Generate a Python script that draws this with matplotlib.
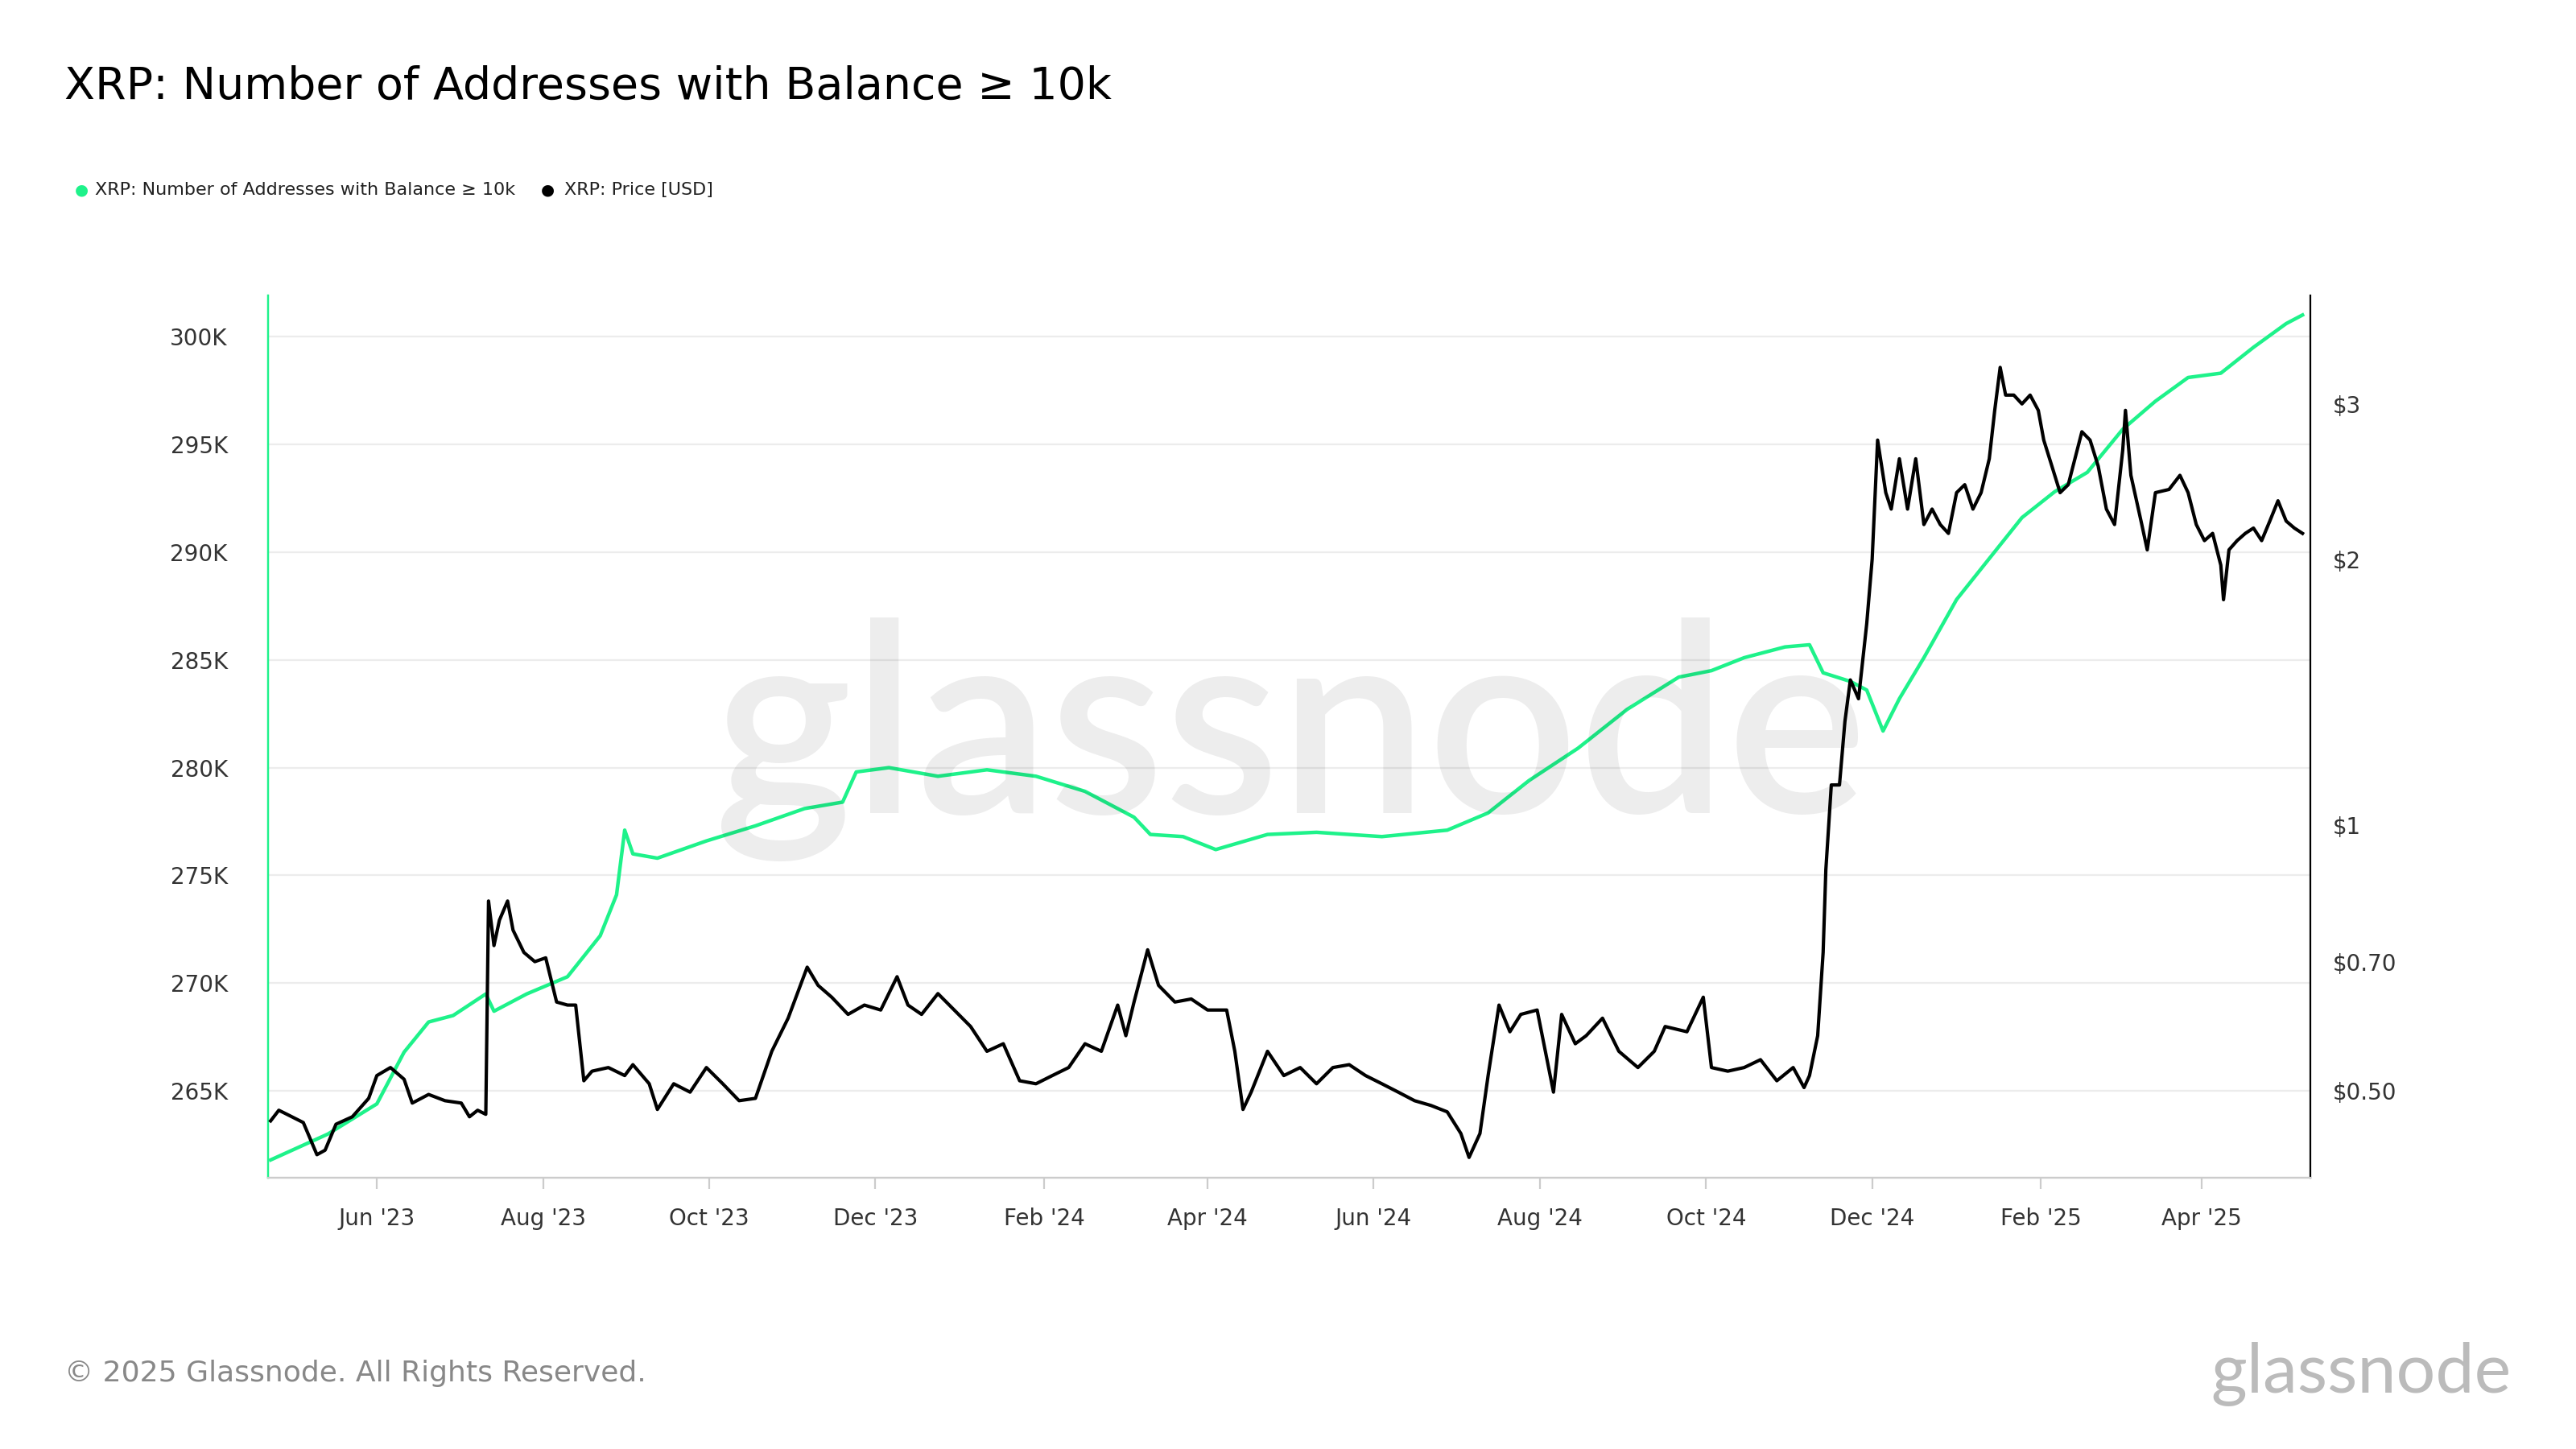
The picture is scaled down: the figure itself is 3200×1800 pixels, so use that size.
import matplotlib
matplotlib.use("Agg")
import matplotlib.pyplot as plt
import matplotlib.dates as mdates
import matplotlib.ticker as mticker
import pandas as pd

BASE = pd.Timestamp("2023-04-22")

# Addresses with balance >= 10k (thousands), by days since BASE
addr_days = [1,22,40,50,59,68,80,83,95,110,122,128,131,134,143,161,179,197,211,216,228,246,264,282,300,318,324,336,348,367,385,409,433,448,463,481,499,518,530,542,557,566,571,581,587,593,599,608,620,632,644,656,668,681,693,705,717,729,741,747]
addr_k = [261.8,263.0,264.4,266.8,268.2,268.5,269.5,268.7,269.5,270.3,272.2,274.1,277.1,276.0,275.8,276.6,277.3,278.1,278.4,279.8,280.0,279.6,279.9,279.6,278.9,277.7,276.9,276.8,276.2,276.9,277.0,276.8,277.1,277.9,279.4,280.9,282.7,284.2,284.5,285.1,285.6,285.7,284.4,284.0,283.6,281.7,283.2,285.1,287.8,289.7,291.6,292.8,293.7,295.7,297.0,298.1,298.3,299.5,300.6,301.0]

# XRP price USD, by days since BASE
price_days = [1,4,7,13,18,21,25,31,37,40,45,50,53,59,65,71,74,77,80,81,83,85,88,90,94,98,102,106,110,113,116,119,125,131,134,140,143,149,155,161,167,173,179,185,191,198,202,207,213,219,225,231,235,240,246,252,258,264,270,276,282,288,294,300,306,312,315,318,323,327,333,339,345,352,355,358,361,367,373,379,385,391,397,403,409,415,421,427,433,438,441,445,448,452,456,460,466,469,472,475,480,484,490,496,503,509,513,521,527,530,536,542,548,554,560,564,566,569,571,572,574,577,579,581,584,587,589,591,594,596,599,602,605,608,611,614,617,620,623,626,629,632,634,636,638,641,644,647,650,652,655,658,661,666,669,672,675,678,681,682,684,688,690,693,698,702,705,708,711,714,717,718,720,723,726,729,732,735,738,741,744,747]
price = [0.462,0.475,0.470,0.460,0.423,0.428,0.458,0.467,0.490,0.520,0.531,0.515,0.484,0.495,0.487,0.484,0.467,0.475,0.470,0.820,0.730,0.780,0.820,0.760,0.717,0.700,0.707,0.630,0.625,0.625,0.513,0.526,0.531,0.520,0.535,0.509,0.476,0.509,0.498,0.531,0.509,0.487,0.490,0.554,0.604,0.690,0.658,0.638,0.610,0.625,0.617,0.673,0.625,0.610,0.644,0.617,0.591,0.554,0.565,0.513,0.509,0.520,0.531,0.565,0.554,0.625,0.577,0.630,0.722,0.658,0.630,0.635,0.617,0.617,0.554,0.476,0.498,0.554,0.520,0.531,0.509,0.531,0.535,0.520,0.509,0.498,0.487,0.481,0.473,0.447,0.420,0.447,0.520,0.625,0.583,0.610,0.617,0.554,0.498,0.610,0.565,0.577,0.604,0.554,0.531,0.554,0.591,0.583,0.638,0.531,0.526,0.531,0.542,0.513,0.531,0.504,0.520,0.577,0.717,0.89,1.11,1.11,1.31,1.46,1.39,1.69,2.0,2.73,2.38,2.28,2.6,2.28,2.6,2.19,2.28,2.19,2.14,2.38,2.43,2.28,2.38,2.6,2.95,3.3,3.07,3.07,3.0,3.07,2.95,2.73,2.55,2.38,2.43,2.79,2.73,2.55,2.28,2.19,2.66,2.95,2.49,2.19,2.05,2.38,2.40,2.49,2.38,2.19,2.10,2.14,1.97,1.80,2.05,2.10,2.14,2.17,2.10,2.21,2.33,2.21,2.17,2.14]

addr_dates = [BASE + pd.Timedelta(days=d) for d in addr_days]
price_dates = [BASE + pd.Timedelta(days=d) for d in price_days]

GREEN = "#1ef28a"
fig = plt.figure(figsize=(16, 9), dpi=200)
ax = fig.add_axes([0.104, 0.187, 0.793, 0.609])
ax2 = ax.twinx()

ax.plot(addr_dates, [v * 1000 for v in addr_k], color=GREEN, lw=1.6, zorder=2)
ax2.plot(price_dates, price, color="black", lw=1.5, zorder=3)

ax.set_ylim(260960, 301900)
ax.set_yticks([265000, 270000, 275000, 280000, 285000, 290000, 295000, 300000])
ax.yaxis.set_major_formatter(mticker.FuncFormatter(lambda v, p: f"{int(v/1000)}K"))
ax.grid(axis="y", color="#ececec", lw=0.8)
ax.set_axisbelow(True)

ax2.set_yscale("log")
ax2.set_ylim(0.398, 3.98)
ax2.yaxis.set_major_locator(mticker.FixedLocator([0.5, 0.7, 1, 2, 3]))
ax2.yaxis.set_minor_locator(mticker.NullLocator())
ax2.yaxis.set_major_formatter(mticker.FixedFormatter(["$0.50", "$0.70", "$1", "$2", "$3"]))

ax.set_xlim(pd.Timestamp("2023-04-22"), pd.Timestamp("2025-05-11"))
ax.xaxis.set_major_locator(mdates.MonthLocator(bymonth=[2, 4, 6, 8, 10, 12]))
ax.xaxis.set_major_formatter(mdates.DateFormatter("%b '%y"))

for a in (ax, ax2):
    a.spines["top"].set_visible(False)
    a.tick_params(labelsize=10, colors="#333333", length=0, pad=10)
ax.spines["left"].set_color(GREEN)
ax.spines["right"].set_visible(False)
ax2.spines["left"].set_color(GREEN)
ax2.spines["right"].set_color("black")
ax.spines["bottom"].set_color("#cccccc")
ax2.spines["bottom"].set_color("#cccccc")
ax.tick_params(axis="x", length=5, color="#cccccc", pad=8)
ax.tick_params(axis="y", pad=18)

fig.text(0.501, 0.49, "glassnode", fontsize=118, color="#000000", alpha=0.07,
         ha="center", va="center", family="Lato", fontweight="semibold")

fig.text(0.025, 0.94, "XRP: Number of Addresses with Balance ≥ 10k", fontsize=20, va="center")
fig.text(0.029, 0.869, "●", color=GREEN, fontsize=7, va="center")
fig.text(0.037, 0.869, "XRP: Number of Addresses with Balance ≥ 10k", fontsize=8, va="center", color="#222222")
fig.text(0.210, 0.869, "●", color="black", fontsize=7, va="center")
fig.text(0.219, 0.869, "XRP: Price [USD]", fontsize=8, va="center", color="#222222")
fig.text(0.025, 0.052, "© 2025 Glassnode. All Rights Reserved.", fontsize=13, color="#888888", va="center")
fig.text(0.975, 0.052, "glassnode", fontsize=31, color="#bbbbbb", va="center", ha="right", family="Lato")

fig.savefig("out.png", dpi=200)
